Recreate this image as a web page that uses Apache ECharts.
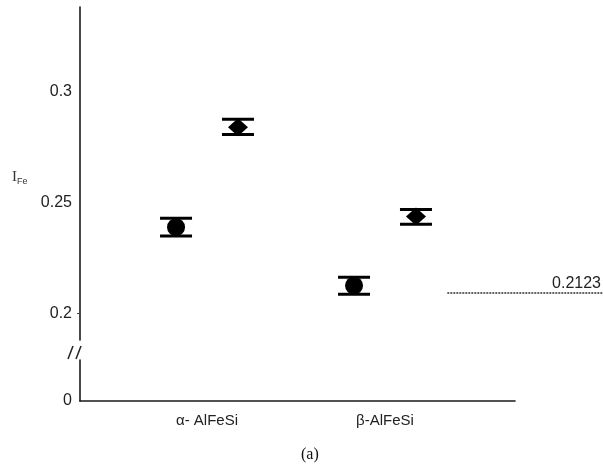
<!DOCTYPE html>
<html>
<head>
<meta charset="utf-8">
<script src="https://cdn.jsdelivr.net/npm/echarts@6/dist/echarts.min.js"></script>
<style>html,body{margin:0;padding:0;background:#fff}#c{width:603px;height:474px}</style>
</head>
<body>
<div id="c"></div>
<script>
// Data
var categories = ['α- AlFeSi', 'β-AlFeSi'];
var categoryPos = [1, 2];
var offset = 0.174;
// circle series (left of each group)
var circleVal = [0.2388, 0.2125];
var circleLow = [0.2348, 0.2086];
var circleHigh = [0.2428, 0.2163];
// diamond series (right of each group)
var diamondVal = [0.2838, 0.2436];
var diamondLow = [0.2806, 0.2401];
var diamondHigh = [0.2874, 0.2468];
// reference line
var refLineValue = 0.2092;
var refLabel = '0.2123';
var yTicks = [0.2, 0.25, 0.3];

var circleData = circleVal.map(function (v, i) { return [categoryPos[i] - offset, v]; });
var diamondData = diamondVal.map(function (v, i) { return [categoryPos[i] + offset, v]; });
var errData = [];
circleVal.forEach(function (v, i) { errData.push([categoryPos[i] - offset, circleLow[i], circleHigh[i]]); });
diamondVal.forEach(function (v, i) { errData.push([categoryPos[i] + offset, diamondLow[i], diamondHigh[i]]); });

var chart = echarts.init(document.getElementById('c'), null, { renderer: 'canvas' });
var axisColor = '#1a1a1a';
var labelFont = { color: '#222', fontSize: 16, fontFamily: 'Liberation Sans, Arial, sans-serif' };

function errRender(params, api) {
  var x = api.value(0);
  var lo = api.coord([x, api.value(1)]);
  var hi = api.coord([x, api.value(2)]);
  var hw = 16;
  var st = { stroke: '#000', lineWidth: 3 };
  return {
    type: 'group',
    children: [
      { type: 'line', shape: { x1: lo[0] - hw, y1: lo[1], x2: lo[0] + hw, y2: lo[1] }, style: st },
      { type: 'line', shape: { x1: hi[0] - hw, y1: hi[1], x2: hi[0] + hw, y2: hi[1] }, style: st }
    ]
  };
}

var option = {
  animation: false,
  backgroundColor: '#fff',
  grid: [
    { left: 80, top: 7, width: 523, height: 333, containLabel: false },
    { left: 80, top: 360, width: 435, height: 41, containLabel: false }
  ],
  xAxis: [
    { gridIndex: 0, type: 'value', min: 0.2865, max: 3.2247, show: false },
    {
      gridIndex: 1, type: 'value', min: 0.2865, max: 2.7303,
      splitLine: { show: false },
      axisLine: { show: true, lineStyle: { color: axisColor, width: 1.6 } },
      axisTick: { show: false },
      axisLabel: {
        customValues: categoryPos,
        margin: 12,
        color: '#222', fontSize: 15, fontFamily: 'Liberation Sans, Arial, sans-serif',
        formatter: function (v) {
          for (var i = 0; i < categoryPos.length; i++) if (Math.abs(v - categoryPos[i]) < 1e-6) return categories[i];
          return '';
        }
      }
    }
  ],
  yAxis: [
    {
      gridIndex: 0, type: 'value', min: 0.188, max: 0.338,
      splitLine: { show: false },
      axisLine: { show: true, lineStyle: { color: axisColor, width: 1.6 } },
      axisTick: { show: true, customValues: [0.2], length: 3, lineStyle: { color: '#444' } },
      axisLabel: Object.assign({ customValues: yTicks, margin: 8, formatter: function (v) { return String(v); } }, labelFont)
    },
    {
      gridIndex: 1, type: 'value', min: 0, max: 1,
      splitLine: { show: false },
      axisLine: { show: true, lineStyle: { color: axisColor, width: 1.6 } },
      axisTick: { show: false },
      axisLabel: Object.assign({ customValues: [0], margin: 8 }, labelFont)
    }
  ],
  series: [
    {
      type: 'custom', xAxisIndex: 0, yAxisIndex: 0, data: errData, renderItem: errRender, z: 3
    },
    {
      type: 'scatter', xAxisIndex: 0, yAxisIndex: 0, data: circleData,
      symbol: 'circle', symbolSize: 18, itemStyle: { color: '#000', opacity: 1 }, z: 4
    },
    {
      type: 'scatter', xAxisIndex: 0, yAxisIndex: 0, data: diamondData,
      symbol: 'diamond', symbolSize: [20, 18], itemStyle: { color: '#000', opacity: 1 }, z: 4,
      markLine: {
        silent: true, symbol: 'none',
        lineStyle: { type: [2, 1], color: '#666', width: 2 },
        label: { show: false },
        data: [[{ coord: [2.35, refLineValue] }, { coord: [3.2247, refLineValue] }]]
      }
    }
  ],
  graphic: [
    {
      type: 'text', left: 12, top: 170,
      style: {
        text: '{i|I}{s|Fe}',
        rich: {
          i: { fontFamily: 'Liberation Serif, Times New Roman, serif', fontSize: 15, fill: '#333' },
          s: { fontFamily: 'Liberation Sans, Arial, sans-serif', fontSize: 9, fill: '#333', padding: [8, 0, 0, 0] }
        }
      }
    },
    {
      type: 'text', right: 2, top: 276,
      style: { text: refLabel, fontFamily: 'Liberation Sans, Arial, sans-serif', fontSize: 16, fill: '#222' }
    },
    { type: 'line', shape: { x1: 68, y1: 359, x2: 73, y2: 346 }, style: { stroke: '#222', lineWidth: 1.5 } },
    { type: 'line', shape: { x1: 76, y1: 359, x2: 81, y2: 346 }, style: { stroke: '#222', lineWidth: 1.5 } },
    {
      type: 'text', left: 301, top: 447,
      style: { text: '(a)', fontFamily: 'Liberation Serif, Times New Roman, serif', fontSize: 16, fill: '#111' }
    }
  ]
};
chart.setOption(option);
</script>
</body>
</html>
